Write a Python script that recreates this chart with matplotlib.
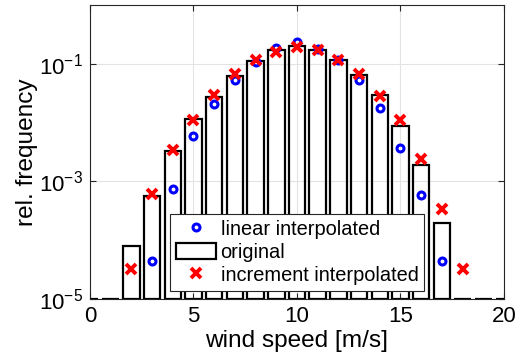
import matplotlib
matplotlib.use("Agg")
import matplotlib.pyplot as plt
from matplotlib.patches import Patch
import numpy as np

plt.rcParams['font.family'] = ['Liberation Sans', 'DejaVu Sans']
plt.rcParams['mathtext.fontset'] = 'custom'
plt.rcParams['mathtext.rm'] = 'Liberation Sans'
plt.rcParams['mathtext.it'] = 'Liberation Sans:italic'

# wind speed bins
speed = np.arange(0, 21)
# original histogram (rel. frequency), 0 = empty bin
original = [0, 0, 7.9e-5, 5.6e-4, 3.27e-3, 0.0117, 0.027, 0.063, 0.112, 0.17, 0.20,
            0.175, 0.115, 0.064, 0.029, 0.0087, 0.00194, 2.0e-4, 0, 0, 0]

lin_x = [3, 4, 5, 6, 7, 8, 9, 10, 11, 12, 13, 14, 15, 16, 17]
lin_y = [4.4e-5, 7.3e-4, 0.006, 0.0207, 0.053, 0.107, 0.189, 0.239, 0.18, 0.115,
         0.054, 0.018, 0.0037, 5.9e-4, 4.4e-5]

inc_x = [2, 3, 4, 5, 6, 7, 8, 9, 10, 11, 12, 13, 14, 15, 16, 17, 18]
inc_y = [3.3e-5, 6.2e-4, 0.00348, 0.0111, 0.0294, 0.0668, 0.1155, 0.161, 0.194,
         0.171, 0.117, 0.0668, 0.0279, 0.0111, 0.00243, 3.35e-4, 3.3e-5]

ymin, ymax = 1e-5, 1.0

fig = plt.figure(figsize=(5.19, 3.62), dpi=100)
ax = fig.add_axes([0.1734, 0.174, 0.7977, 0.812])

ax.set_yscale('log')
heights = np.maximum(np.array(original), ymin) - ymin
ax.bar(speed, heights, bottom=ymin, width=0.8, fill=False, edgecolor='black',
       linewidth=1.6, zorder=2)
ax.plot(lin_x, lin_y, 'o', color='blue', markerfacecolor='none', markersize=5,
        markeredgewidth=2.2, zorder=3)
ax.plot(inc_x, inc_y, 'x', color='red', markersize=7, markeredgewidth=2.8, zorder=4)

ax.set_xlim(0, 20)
ax.set_ylim(ymin, ymax)
ax.set_xticks([0, 5, 10, 15, 20])
ax.set_yticks([1e-5, 1e-3, 1e-1])
ax.set_yticklabels([r'$10^{-5}$', r'$10^{-3}$', r'$10^{-1}$'])
ax.yaxis.set_minor_locator(matplotlib.ticker.NullLocator())
ax.tick_params(direction='in', top=True, right=True, length=4, width=0.8,
               color='#262626', labelsize=16, pad=5)
ax.grid(True, color='#e3e3e3', linewidth=0.8, zorder=0)
ax.set_axisbelow(True)
for s in ax.spines.values():
    s.set_color('#262626')
    s.set_linewidth(0.8)

ax.set_xlabel('wind speed [m/s]', fontsize=17.6, labelpad=2)
ax.set_ylabel('rel. frequency', fontsize=17.6, labelpad=1)

h_lin, = ax.plot([], [], 'o', color='blue', markerfacecolor='none', markersize=5,
                 markeredgewidth=2.2)
h_orig = Patch(facecolor='none', edgecolor='black', linewidth=1.6)
h_inc, = ax.plot([], [], 'x', color='red', markersize=7, markeredgewidth=2.8)
leg = ax.legend([h_lin, h_orig, h_inc],
                ['linear interpolated', 'original', 'increment interpolated'],
                loc='lower center', bbox_to_anchor=(0.5, 0.028), fontsize=14.4,
                fancybox=False, framealpha=1, edgecolor='#262626',
                borderpad=0.3, labelspacing=0.2, handlelength=2.0,
                handleheight=0.85, handletextpad=0.25, borderaxespad=0)
leg.get_frame().set_linewidth(0.8)
leg.set_zorder(5)

fig.savefig('out.png', dpi=100)
